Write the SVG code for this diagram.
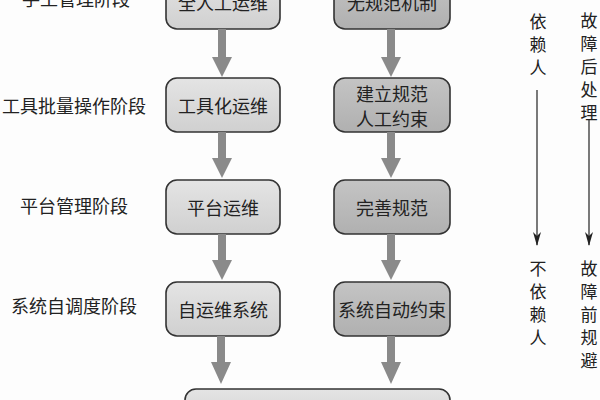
<svg xmlns="http://www.w3.org/2000/svg" width="600" height="400" viewBox="0 0 600 400">
<defs>
<linearGradient id="gL" x1="0" y1="0" x2="0" y2="1"><stop offset="0" stop-color="#e4e4e4"/><stop offset="1" stop-color="#d0d0d0"/></linearGradient>
<linearGradient id="gR" x1="0" y1="0" x2="0" y2="1"><stop offset="0" stop-color="#c4c4c4"/><stop offset="1" stop-color="#b0b0b0"/></linearGradient>
<marker id="thin" viewBox="0 0 14 8" refX="13" refY="4" markerWidth="14" markerHeight="8" markerUnits="userSpaceOnUse" orient="auto"><path d="M0,0 L14,4 L0,8 L4,4 Z" fill="#222"/></marker>
</defs>
<style>
text{font-family:"Noto Sans CJK SC","Noto Sans",sans-serif;font-size:18px;fill:#222;text-anchor:middle;dominant-baseline:central}
.v{font-size:17px}
.bl{fill:url(#gL);stroke:#333;stroke-width:1.6}
.br{fill:url(#gR);stroke:#333;stroke-width:1.6}
.fat{fill:#8a8a8a}
.tl{stroke:#333;stroke-width:1.3;fill:none}
</style>
<rect width="600" height="400" fill="#fdfdfd"/>
<g id="stages">
<text x="76" y="-2">手工管理阶段</text>
<text x="74" y="105">工具批量操作阶段</text>
<text x="74" y="205">平台管理阶段</text>
<text x="74" y="305">系统自调度阶段</text>
</g>
<g id="n-manual"><rect class="bl" x="166" y="-25" width="114" height="54" rx="11"/><text x="223" y="2">全人工运维</text></g>
<g id="n-tool"><rect class="bl" x="166" y="78" width="114" height="54" rx="11"/><text x="223" y="105">工具化运维</text></g>
<g id="n-platform"><rect class="bl" x="166" y="180" width="114" height="54" rx="11"/><text x="223" y="207">平台运维</text></g>
<g id="n-self"><rect class="bl" x="166" y="282" width="114" height="54" rx="11"/><text x="223" y="309">自运维系统</text></g>
<g id="n-nospec"><rect class="br" x="334" y="-25" width="116" height="54" rx="11"/><text x="392" y="2">无规范机制</text></g>
<g id="n-spec"><rect class="br" x="334" y="78" width="116" height="54" rx="11"/><text x="392" y="93">建立规范</text><text x="392" y="118">人工约束</text></g>
<g id="n-perfect"><rect class="br" x="334" y="180" width="116" height="54" rx="11"/><text x="392" y="207">完善规范</text></g>
<g id="n-auto"><rect class="br" x="334" y="282" width="116" height="54" rx="11"/><text x="392" y="309">系统自动约束</text></g>
<g id="n-bottom"><rect class="bl" x="185" y="389" width="265" height="40" rx="11"/></g>
<g id="v-rely"><text class="v" x="538" y="20">依</text><text class="v" x="538" y="43">赖</text><text class="v" x="538" y="66">人</text></g>
<g id="v-after"><text class="v" x="589" y="19">故</text><text class="v" x="589" y="42">障</text><text class="v" x="589" y="65">后</text><text class="v" x="589" y="88">处</text><text class="v" x="589" y="111">理</text></g>
<g id="v-norely"><text class="v" x="538" y="267">不</text><text class="v" x="538" y="290">依</text><text class="v" x="538" y="313">赖</text><text class="v" x="538" y="336">人</text></g>
<g id="v-before"><text class="v" x="589" y="267">故</text><text class="v" x="589" y="290">障</text><text class="v" x="589" y="313">前</text><text class="v" x="589" y="336">规</text><text class="v" x="589" y="359">避</text></g>
<g id="connectors">
<path class="fat" d="M218,29 h8 v28 h6 l-10,20 l-10,-20 h6 z"/>
<path class="fat" d="M218,132 h8 v26 h6 l-10,20 l-10,-20 h6 z"/>
<path class="fat" d="M218,234 h8 v26 h6 l-10,20 l-10,-20 h6 z"/>
<path class="fat" d="M217,336 h8 v26 h6 l-10,22 l-10,-22 h6 z"/>
<path class="fat" d="M387,29 h8 v28 h6 l-10,20 l-10,-20 h6 z"/>
<path class="fat" d="M387,132 h8 v26 h6 l-10,20 l-10,-20 h6 z"/>
<path class="fat" d="M387,234 h8 v26 h6 l-10,20 l-10,-20 h6 z"/>
<path class="fat" d="M387,336 h8 v26 h6 l-10,22 l-10,-22 h6 z"/>
<line class="tl" x1="537" y1="90" x2="537" y2="245" marker-end="url(#thin)"/>
<line class="tl" x1="589" y1="120" x2="589" y2="245" marker-end="url(#thin)"/>
</g>
</svg>
